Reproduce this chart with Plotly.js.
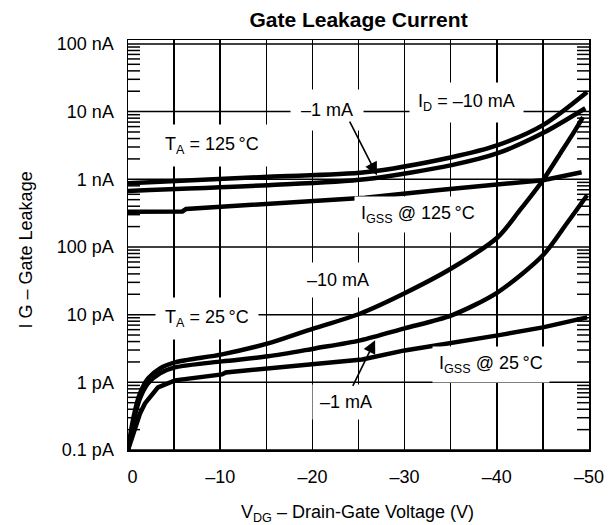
<!DOCTYPE html>
<html>
<head>
<meta charset="utf-8">
<script src="https://cdn.plot.ly/plotly-3.0.1.min.js"></script>
<style>html,body{margin:0;padding:0;background:#fff}</style>
</head>
<body>
<div id="chart" style="width:612px;height:525px"></div>
<script>
// ---- data (V in volts, I in amperes) ----
const v125_10mA = [0, -15.2, -25.7, -35.1, -40.1, -45, -49.8];
const i125_10mA = [8.75e-10, 1.09e-9, 1.27e-9, 2.12e-9, 3.19e-9, 6.3e-9, 1.95e-8];

const v125_1mA = [0, -15.2, -25.7, -35.1, -40.1, -45, -49.6];
const i125_1mA = [6.73e-10, 8.18e-10, 1.0e-9, 1.62e-9, 2.43e-9, 4.81e-9, 1.12e-8];

const vGss125 = [0, -5.9, -6.3, -25.7, -33.5, -45, -49.2];
const iGss125 = [3.32e-10, 3.35e-10, 3.65e-10, 5.35e-10, 6.9e-10, 9.7e-10, 1.27e-9];

const v25_10mA = [0, -0.33, -0.76, -1.3, -2.17, -3.47, -5.1, -10.2, -15.2, -19.5, -25.2, -30, -35.1, -40.1, -42.5, -45, -46.9, -48.3, -49.35];
const i25_10mA = [1e-13, 1.95e-13, 3.84e-13, 6.85e-13, 1.14e-12, 1.61e-12, 1.97e-12, 2.59e-12, 3.76e-12, 5.86e-12, 1.04e-11, 2.07e-11, 4.84e-11, 1.39e-10, 3.49e-10, 9.7e-10, 2.43e-9, 4.81e-9, 8.3e-9];

const v25_1mA = [0, -0.33, -0.76, -1.3, -2.17, -3.47, -5.1, -10.2, -15.2, -20.3, -25.2, -30, -35.1, -40.1, -45, -47.6, -49.8];
const i25_1mA = [1e-13, 1.64e-13, 3.24e-13, 5.78e-13, 9.64e-13, 1.36e-12, 1.66e-12, 2.04e-12, 2.42e-12, 3.17e-12, 4.17e-12, 6.27e-12, 9.77e-12, 2.14e-11, 7.53e-11, 2.24e-10, 5.82e-10];

const vGss25 = [0, -0.33, -0.76, -1.3, -1.84, -3.25, -5.1, -10.2, -10.6, -15.2, -20.3, -25.4, -30, -35.1, -40.1, -45, -49.8];
const iGss25 = [1e-13, 1.38e-13, 2.08e-13, 3.47e-13, 4.88e-13, 8.41e-13, 1.07e-12, 1.31e-12, 1.4e-12, 1.61e-12, 1.91e-12, 2.18e-12, 2.96e-12, 3.76e-12, 4.94e-12, 6.49e-12, 9.12e-12];

// ---- axis ticks ----
const xTickVals = [0, -5, -10, -15, -20, -25, -30, -35, -40, -45, -50];
const xTickText = ['\u20020', ' ', '\u201310', ' ', '\u201320', ' ', '\u201330', ' ', '\u201340', ' ', '\u201350'];
const yDecadeVals = [1e-13, 1e-12, 1e-11, 1e-10, 1e-9, 1e-8, 1e-7];
const yDecadeText = ['0.1 pA', '1 pA', '10 pA', '100 pA', '1 nA', '10 nA', '100 nA'];
const minorDigits = [2, 3, 4, 5, 6, 7, 8, 9];

const FONT = 'Liberation Sans, Arial, Helvetica, sans-serif';
const lineStyle = {color: '#000', width: 4.5};

function curve(x, y, shape) {
  return {x: x, y: y, type: 'scatter', mode: 'lines', hoverinfo: 'skip',
          line: Object.assign({shape: shape, smoothing: 0.8}, lineStyle)};
}

const traces = [
  curve(v125_10mA, i125_10mA, 'spline'),
  curve(v125_1mA, i125_1mA, 'spline'),
  curve(vGss125, iGss125, 'linear'),
  curve(v25_10mA, i25_10mA, 'spline'),
  curve(v25_1mA, i25_1mA, 'spline'),
  curve(vGss25, iGss25, 'linear')
];

// decade gridlines and 12-px inside minor ticks on both sides, positioned via the y scale
const shapes = [];
yDecadeVals.forEach((v, d) => {
  shapes.push({type: 'line', xref: 'paper', yref: 'y', x0: 0, x1: 1, y0: v, y1: v,
               layer: 'below', line: {color: '#000', width: 1.5}});
  if (d < yDecadeVals.length - 1) {
    minorDigits.forEach(m => {
      const val = m * v;
      shapes.push({type: 'line', xref: 'paper', yref: 'y', xsizemode: 'pixel', xanchor: 0,
                   x0: 0, x1: 12, y0: val, y1: val, layer: 'above', line: {color: '#000', width: 1.5}});
      shapes.push({type: 'line', xref: 'paper', yref: 'y', xsizemode: 'pixel', xanchor: 1,
                   x0: -12, x1: 0, y0: val, y1: val, layer: 'above', line: {color: '#000', width: 1.5}});
    });
  }
});

function label(x, y, text, pad) {
  return {x: x, y: y, xref: 'x', yref: 'y', text: text, showarrow: false,
          bgcolor: '#fff', borderpad: pad, font: {family: FONT, size: 18, color: '#000'}};
}
function arrow(x, y, ax, ay) {
  return {x: x, y: y, xref: 'x', yref: 'y', text: '', showarrow: true,
          ax: ax, ay: ay, arrowhead: 2, arrowsize: 1.6, arrowwidth: 1.6, arrowcolor: '#000', standoff: 0};
}

const annotations = [
  label(-9.06, -8.50, 'T<sub>A</sub> = 125\u2009°C', 9),
  label(-21.6, -7.978, '\u20131 mA', 10),
  label(-36.66, -7.86, 'I<sub>D</sub> = \u201310 mA', 8),
  label(-31.45, -9.516, 'I<sub>GSS</sub> @ 125\u2009°C', 6),
  label(-22.8, -10.493, '\u201310 mA', 7),
  label(-8.57, -11.06, 'T<sub>A</sub> = 25\u2009°C', 9),
  label(-39.4, -11.74, 'I<sub>GSS</sub> @ 25\u2009°C', 6),
  label(-23.6, -12.297, '\u20131 mA', 7),
  arrow(-27.0, -8.939, -28, -55),
  arrow(-26.8, -11.38, -23, 47),
  {xref: 'paper', yref: 'paper', x: -0.221, y: 0.487, xanchor: 'center', yanchor: 'middle',
   text: 'I G \u2013 Gate Leakage', textangle: -90,
   showarrow: false, font: {family: FONT, size: 18, color: '#000'}},
  {xref: 'paper', yref: 'paper', x: 0.497, y: -0.155, xanchor: 'center', yanchor: 'middle',
   text: 'V<sub>DG</sub> \u2013 Drain-Gate Voltage (V)',
   showarrow: false, font: {family: FONT, size: 18, color: '#000'}}
];

const layout = {
  width: 612, height: 525,
  margin: {l: 128, r: 23, t: 40, b: 75, pad: 0},
  paper_bgcolor: '#fff', plot_bgcolor: '#fff',
  showlegend: false,
  font: {family: FONT, size: 18, color: '#000'},
  title: {text: '<b>Gate Leakage Current</b>', font: {family: FONT, size: 21, color: '#000'},
          x: 0.5, xref: 'paper', xanchor: 'center', y: 1 - 20 / 525, yanchor: 'middle'},
  xaxis: {
    range: [0, -50], tickmode: 'array', tickvals: xTickVals, ticktext: xTickText,
    ticks: '', showgrid: true, gridcolor: '#000', gridwidth: 1.5, zeroline: false,
    showline: true, mirror: true, linecolor: '#000', linewidth: 1.5,
    ticklabelstandoff: 10, tickfont: {family: FONT, size: 18, color: '#000'}
  },
  yaxis: {
    type: 'log', range: [-13, -6.942], tickmode: 'array', tickvals: yDecadeVals, ticktext: yDecadeText,
    ticks: '', showgrid: false, zeroline: false,
    showline: true, mirror: true, linecolor: '#000', linewidth: 1.5,
    ticklabelstandoff: 9, tickfont: {family: FONT, size: 18, color: '#000'}
  },
  shapes: shapes,
  annotations: annotations
};

Plotly.newPlot('chart', traces, layout, {staticPlot: true, displayModeBar: false});
</script>
</body>
</html>
